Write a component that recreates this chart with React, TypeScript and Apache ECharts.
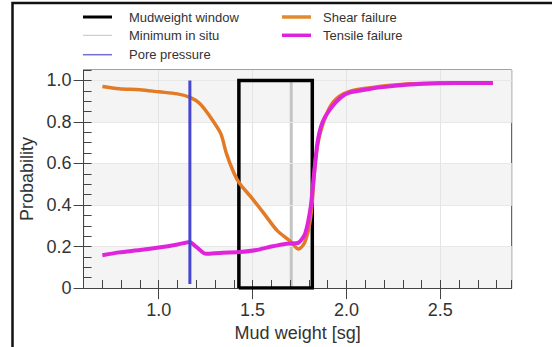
import React, { useEffect, useRef } from "react";
import * as echarts from "echarts";

// ---- data ----
const xTicks = [1.0, 1.5, 2.0, 2.5];
const yTicks = [0, 0.2, 0.4, 0.6, 0.8, 1.0];

const shearX = [0.70, 0.79, 0.90, 1.00, 1.10, 1.17, 1.22, 1.27, 1.33, 1.36, 1.40, 1.43, 1.49, 1.56, 1.63, 1.70, 1.745, 1.78, 1.81, 1.835, 1.86, 1.905, 1.95, 2.02, 2.13, 2.22, 2.34, 2.49, 2.66, 2.78];
const shearY = [0.971, 0.960, 0.955, 0.945, 0.935, 0.917, 0.888, 0.830, 0.745, 0.650, 0.555, 0.505, 0.440, 0.360, 0.278, 0.226, 0.188, 0.225, 0.346, 0.617, 0.745, 0.860, 0.915, 0.948, 0.965, 0.975, 0.984, 0.987, 0.988, 0.988];

const tensileX = [0.70, 0.79, 0.90, 1.00, 1.10, 1.165, 1.20, 1.25, 1.30, 1.43, 1.52, 1.60, 1.68, 1.745, 1.78, 1.81, 1.826, 1.845, 1.87, 1.915, 1.97, 2.02, 2.13, 2.22, 2.34, 2.49, 2.66, 2.78];
const tensileY = [0.158, 0.172, 0.183, 0.195, 0.210, 0.222, 0.198, 0.165, 0.168, 0.174, 0.183, 0.200, 0.214, 0.219, 0.262, 0.394, 0.537, 0.697, 0.793, 0.864, 0.918, 0.942, 0.960, 0.970, 0.980, 0.986, 0.988, 0.988];

const windowLow = 1.427;
const windowHigh = 1.818;
const windowTop = 1.0;
const minInSitu = 1.706;
const minInSituTop = 1.0;
const porePressure = 1.166;
const porePressureRange = [0.02, 1.0];

const bands = [[0, 0.2], [0.4, 0.6], [0.8, 1.05]];

const FONT = "'Liberation Sans', Arial, sans-serif";

const X_MIN = 0.6;
const X_MAX = 2.88;
const Y_MIN = 0;
const Y_MAX = 1.05;

const W = 552;
const H = 347;
const GRID = { left: 83.6, right: 40.3, top: 70, bottom: 58 };

export default function App() {
  const ref = useRef<HTMLDivElement>(null);
  useEffect(() => {
    const chart = echarts.init(ref.current!, null, { renderer: "svg" });
    const pairs = (xs: number[], ys: number[]) => xs.map((x, i) => [x, ys[i]]);
    const legendBase = (name: string, left: number, top: number, h: number, color: string, pad: number) => ({
      data: [{ name, itemStyle: { color } }],
      left,
      top,
      padding: 0,
      icon: "rect",
      itemWidth: 29,
      itemHeight: h,
      selectedMode: false,
      textStyle: { fontSize: 13, color: "#333", fontFamily: FONT, padding: [0, 0, 0, pad] },
    });
    const tickStyle = { color: "#444", width: 1 };
    const plotW = W - GRID.left - GRID.right;
    const plotH = H - GRID.top - GRID.bottom;
    chart.setOption({
      animation: false,
      backgroundColor: "#fff",
      graphic: [
        {
          type: "rect",
          shape: { x: 12.5, y: 3, width: 700, height: 500 },
          style: { fill: "none", stroke: "#111", lineWidth: 2.5 },
          silent: true,
        },
      ],
      legend: [
        legendBase("Mudweight window", 83, 10.5, 3, "#000", 12),
        legendBase("Minimum in situ", 83, 28.8, 1, "#c4c4c4", 12),
        legendBase("Pore pressure", 83, 48.2, 1.5, "#7070cc", 12),
        legendBase("Shear failure", 282, 10.5, 3.5, "#e28a30", 7),
        legendBase("Tensile failure", 282, 28.8, 3.5, "#dd22dd", 7),
      ],
      grid: {
        ...GRID,
        show: true,
        borderColor: "#444",
        borderWidth: 1,
      },
      xAxis: [
        {
          type: "value",
          min: X_MIN,
          max: X_MAX,
          minInterval: 0.5,
          maxInterval: 0.5,
          z: 1.5,
          name: "Mud weight [sg]",
          nameLocation: "middle",
          nameGap: 34,
          nameTextStyle: { fontSize: 18, color: "#333", fontFamily: FONT },
          axisLine: { show: true, lineStyle: { color: "#444", width: 1 } },
          axisTick: { show: true, inside: false, length: 11, customValues: xTicks, lineStyle: tickStyle },
          minorTick: { show: false },
          axisLabel: {
            customValues: xTicks,
            fontSize: 18,
            color: "#333",
            fontFamily: FONT,
            margin: 13,
            formatter: (v: number) => v.toFixed(1),
          },
          splitLine: { show: true, lineStyle: { color: "#e4e4e4", width: 1 } },
        },
        {
          type: "value",
          min: X_MIN,
          max: X_MAX,
          interval: 0.1,
          position: "top",
          offset: -plotH,
          z: 1.5,
          axisLine: { show: false },
          axisTick: { show: true, length: 9, lineStyle: tickStyle },
          axisLabel: { show: false },
          splitLine: { show: false },
        },
      ],
      yAxis: [
        {
          type: "value",
          min: Y_MIN,
          max: Y_MAX,
          interval: 0.2,
          z: 1.5,
          name: "Probability",
          nameLocation: "middle",
          nameGap: 45,
          nameTextStyle: { fontSize: 18, color: "#333", fontFamily: FONT },
          axisLine: { show: true, lineStyle: { color: "#444", width: 1 } },
          axisTick: { show: true, inside: false, length: 10, customValues: yTicks, lineStyle: tickStyle },
          minorTick: { show: false },
          axisLabel: {
            customValues: yTicks,
            fontSize: 18,
            color: "#333",
            fontFamily: FONT,
            margin: 12,
            formatter: (v: number) => (v === 0 ? "0" : v.toFixed(1)),
          },
          splitLine: { show: true, lineStyle: { color: "#e8e8e8", width: 1 } },
        },
        {
          type: "value",
          min: Y_MIN,
          max: Y_MAX,
          interval: 0.05,
          position: "right",
          offset: -plotW,
          z: 1.5,
          axisLine: { show: false },
          axisTick: { show: true, length: 8, lineStyle: tickStyle },
          axisLabel: { show: false },
          splitLine: { show: false },
        },
      ],
      series: [
        {
          name: "Minimum in situ",
          type: "line",
          symbol: "none",
          silent: true,
          data: [
            [minInSitu, 0],
            [minInSitu, minInSituTop],
          ],
          lineStyle: { color: "#c4c4c4", width: 3 },
          itemStyle: { color: "#c4c4c4" },
          markArea: {
            silent: true,
            itemStyle: { color: "#f4f4f4" },
            data: bands.map((b) => [{ yAxis: b[0] }, { yAxis: b[1] }]),
          },
          z: 1,
        },
        {
          name: "Mudweight window",
          type: "line",
          symbol: "none",
          silent: true,
          data: [
            [windowLow, 0],
            [windowLow, windowTop],
            [windowHigh, windowTop],
            [windowHigh, 0],
            [windowLow, 0],
          ],
          lineStyle: { color: "#000", width: 3.5, join: "miter" },
          itemStyle: { color: "#000" },
          z: 2,
        },
        {
          name: "Shear failure",
          type: "line",
          symbol: "none",
          silent: true,
          smooth: 0.3,
          data: pairs(shearX, shearY),
          lineStyle: { color: "#e27a26", width: 3.5 },
          itemStyle: { color: "#e27a26" },
          z: 4,
        },
        {
          name: "Tensile failure",
          type: "line",
          symbol: "none",
          silent: true,
          smooth: 0.2,
          data: pairs(tensileX, tensileY),
          lineStyle: { color: "#e024dc", width: 4 },
          itemStyle: { color: "#e024dc" },
          z: 5,
        },
        {
          name: "Pore pressure",
          type: "line",
          symbol: "none",
          silent: true,
          xAxisIndex: 1,
          yAxisIndex: 1,
          data: [
            [porePressure, porePressureRange[0]],
            [porePressure, porePressureRange[1]],
          ],
          lineStyle: { color: "#4646d2", width: 3 },
          itemStyle: { color: "#4646d2" },
          z: 6,
        },
      ],
    });
    return () => chart.dispose();
  }, []);
  return (
    <div
      ref={ref}
      style={{ position: "fixed", left: 0, top: 0, width: W, height: H, background: "#fff" }}
    />
  );
}
